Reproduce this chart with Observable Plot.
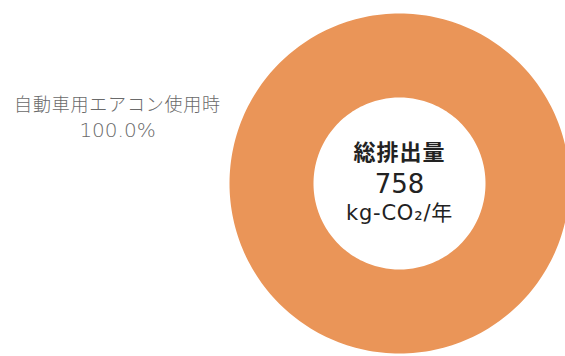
<!DOCTYPE html>
<html><head><meta charset="utf-8">
<script src="https://cdn.jsdelivr.net/npm/d3@7"></script>
<script src="https://cdn.jsdelivr.net/npm/@observablehq/plot@0.6"></script>
<style>body{margin:0;background:#fff}</style>
</head><body><div id="chart"></div>
<script>
// ---- data ----
const categories = ["自動車用エアコン使用時"];
const values = [758];
const colors = ["#EA9558"];
const centerTitle = "総排出量";
const unitLabel = "kg-CO₂/年";

// ---- layout ----
const W = 565, H = 356, cx = 399, cy = 183, R = 170, r = 86;
const total = d3.sum(values);
const slices = d3.pie().sort(null)(values);
const ring = [];
slices.forEach((s, i) => {
  const n = 240;
  for (let k = 0; k <= n; k++) {
    const a = s.startAngle + (s.endAngle - s.startAngle) * k / n;
    ring.push({cat: categories[i], x: R * Math.sin(a), y: R * Math.cos(a)});
  }
  for (let k = n; k >= 0; k--) {
    const a = s.startAngle + (s.endAngle - s.startAngle) * k / n;
    ring.push({cat: categories[i], x: r * Math.sin(a), y: r * Math.cos(a)});
  }
});
const pctLabels = values.map(v => (v / total * 100).toFixed(1) + "%");
const latin = "'DejaVu Sans', 'Noto Sans CJK JP', sans-serif";

const chart = Plot.plot({
  width: W, height: H, margin: 0,
  style: {fontFamily: "'Noto Sans CJK JP', sans-serif", background: "#fff"},
  x: {domain: [-cx, W - cx], axis: null},
  y: {domain: [-(H - cy), cy], axis: null},
  color: {domain: categories, range: colors},
  marks: [
    Plot.line(ring, {x: "x", y: "y", z: "cat", fill: "cat", stroke: null}),
    Plot.text(categories, {frameAnchor: "top-left", dx: 117, dy: 105, textAnchor: "middle", lineAnchor: "middle",
      fontSize: 18, fill: "#6a6a6a", fontWeight: 300}),
    Plot.text(pctLabels, {frameAnchor: "top-left", dx: 117, dy: 130, textAnchor: "middle", lineAnchor: "middle",
      fontSize: 20, fill: "#6a6a6a", fontWeight: 200, fontFamily: latin}),
    Plot.text([centerTitle], {x: () => 0, y: () => 0, dy: -31, fontSize: 22, fontWeight: "bold", fill: "#222"}),
    Plot.text([total], {x: () => 0, y: () => 0, dy: 1, fontSize: 26, fill: "#222", fontFamily: latin}),
    Plot.text([unitLabel], {x: () => 0, y: () => 0, dy: 30, fontSize: 21, fill: "#222", fontFamily: latin})
  ]
});
const spacing = [null, "0.8px", null, "1px", null, "0.8px"];
d3.select(chart).selectAll("g[aria-label=text]").each(function(d, i) {
  if (spacing[i + 1]) d3.select(this).style("letter-spacing", spacing[i + 1]);
});
document.getElementById("chart").appendChild(chart);
</script>
</body></html>
